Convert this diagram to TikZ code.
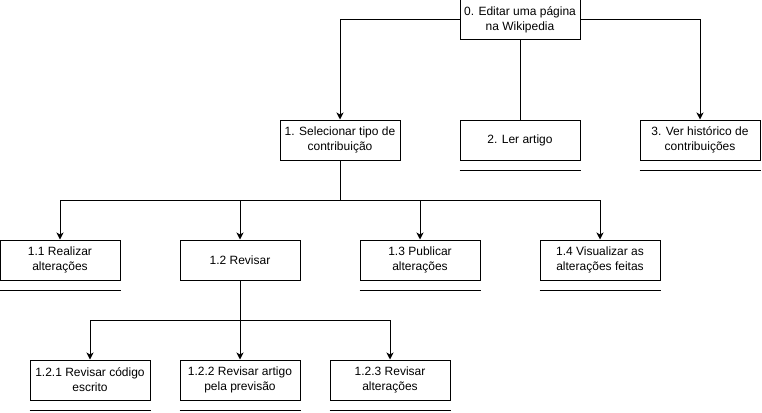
\documentclass[tikz,border=0pt]{standalone}
\usepackage{fontspec}
\setmainfont{Liberation Sans}
\usetikzlibrary{arrows.meta}
\begin{document}
\begin{tikzpicture}[x=1pt,y=-1pt,line width=1pt,
  procbox/.style={draw=black,fill=white,minimum width=120pt,minimum height=40pt,inner sep=0pt,align=center,font=\fontsize{12}{15}\selectfont},
  uline/.style={draw=black},
  conn/.style={draw=black},
  arr/.style={draw=black,-{Stealth[length=7pt,width=7pt,inset=2pt]}}]
\useasboundingbox (0,0) rectangle (762,412);
% nodes
\node[procbox] (n0) at (520,20) {0. Editar uma página\\na Wikipedia};
\node[procbox] (n1) at (340,140) {1. Selecionar tipo de\\contribuição};
\node[procbox] (n2) at (520,140) {2. Ler artigo};
\node[procbox] (n3) at (700,140) {3. Ver histórico de\\contribuições};
\node[procbox] (n11) at (60,260) {1.1 Realizar\\alterações};
\node[procbox] (n12) at (240,260) {1.2 Revisar};
\node[procbox] (n13) at (420,260) {1.3 Publicar\\alterações};
\node[procbox] (n14) at (600,260) {1.4 Visualizar as\\alterações feitas};
\node[procbox] (n121) at (90,380) {1.2.1 Revisar código\\escrito};
\node[procbox] (n122) at (240,380) {1.2.2 Revisar artigo\\pela previsão};
\node[procbox] (n123) at (390,380) {1.2.3 Revisar\\alterações};
% underlines
\foreach \n in {n2,n3,n11,n13,n14,n121,n122,n123}
  \draw[uline] ([yshift=-10pt]\n.south west) -- ([yshift=-10pt]\n.south east);
% connectors
\draw[arr] (n0.west) -| (n1.north);
\draw[arr] (n0.east) -| (n3.north);
\draw[conn] (n0.south) -- (n2.north);
\coordinate (b1) at (340,200);
\draw[conn] (n1.south) -- (b1);
\draw[arr] (b1) -| (n11.north);
\draw[arr] (b1) -| (n12.north);
\draw[arr] (b1) -| (n13.north);
\draw[arr] (b1) -| (n14.north);
\coordinate (b2) at (240,320);
\draw[conn] (n12.south) -- (b2);
\draw[arr] (b2) -| (n121.north);
\draw[arr] (b2) -- (n122.north);
\draw[arr] (b2) -| (n123.north);
\end{tikzpicture}
\end{document}
